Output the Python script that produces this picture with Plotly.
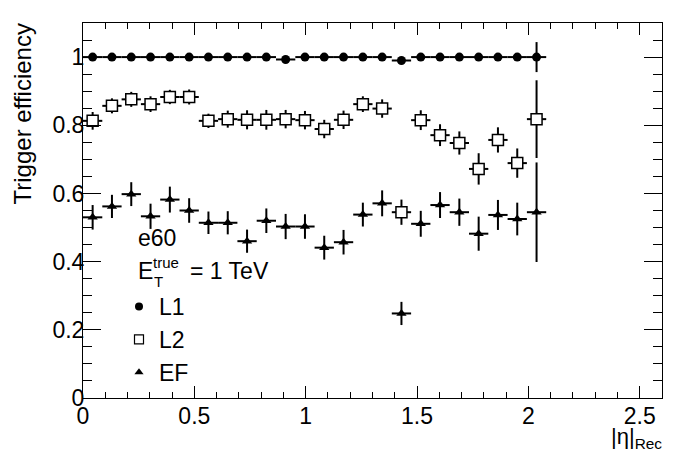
import numpy as np
import plotly.graph_objects as go

# Binning: 30 bins in |eta| from 0 to 2.6, first 24 bins filled
bin_width = 2.6 / 30
n_filled = 24
eta_centers = [round((i + 0.5) * bin_width, 4) for i in range(n_filled)]
eta_halfwidth = [bin_width / 2] * n_filled

l1_eff = [1.0, 1.0, 1.0, 1.0, 1.0, 1.0, 1.0, 1.0, 1.0, 1.0,
          0.993, 1.0, 1.0, 1.0, 1.0, 1.0, 0.99, 1.0, 1.0, 1.0,
          1.0, 1.0, 1.0, 1.0]
l1_err = [0.002, 0.002, 0.002, 0.002, 0.002, 0.002, 0.002, 0.002, 0.002, 0.002,
          0.005, 0.002, 0.002, 0.002, 0.002, 0.002, 0.007, 0.002, 0.002, 0.002,
          0.002, 0.002, 0.002, 0.044]

l2_eff = [0.813, 0.857, 0.876, 0.862, 0.883, 0.883, 0.813, 0.818, 0.816, 0.816,
          0.818, 0.815, 0.789, 0.816, 0.862, 0.849, 0.545, 0.815, 0.771, 0.748,
          0.672, 0.757, 0.689, 0.818]
l2_err = [0.026, 0.022, 0.022, 0.023, 0.021, 0.022, 0.021, 0.025, 0.028, 0.029,
          0.027, 0.027, 0.027, 0.027, 0.023, 0.027, 0.037, 0.029, 0.032, 0.034,
          0.046, 0.037, 0.043, 0.114]

ef_eff = [0.530, 0.562, 0.598, 0.533, 0.582, 0.550, 0.514, 0.514, 0.460, 0.520,
          0.503, 0.503, 0.441, 0.457, 0.538, 0.571, 0.248, 0.511, 0.566, 0.545,
          0.482, 0.537, 0.525, 0.545]
ef_err = [0.036, 0.034, 0.035, 0.037, 0.038, 0.036, 0.033, 0.034, 0.034, 0.036,
          0.037, 0.036, 0.035, 0.036, 0.035, 0.038, 0.034, 0.038, 0.038, 0.040,
          0.050, 0.044, 0.048, 0.146]

series_names = ["L1", "L2", "EF"]
x_ticks = [0, 0.5, 1, 1.5, 2, 2.5]
y_ticks = [0, 0.2, 0.4, 0.6, 0.8, 1]

FONT = "Liberation Sans, Arial, Helvetica, sans-serif"

fig = go.Figure()

def add_series(y, yerr, symbol, size, fill, line_w):
    fig.add_trace(go.Scatter(
        x=eta_centers, y=y, mode="markers", showlegend=False,
        marker=dict(symbol=symbol, size=size, color=fill,
                    line=dict(color="black", width=line_w)),
        error_x=dict(type="data", array=eta_halfwidth, width=0,
                     thickness=2, color="black"),
        error_y=dict(type="data", array=yerr, width=0,
                     thickness=2, color="black"),
    ))

add_series(l1_eff, l1_err, "circle", 9, "black", 0)
add_series(l2_eff, l2_err, "square", 11, "white", 1.5)
add_series(ef_eff, ef_err, "triangle-up", 9, "black", 0)

# legend-only entries
leg_styles = [("circle", 8, "black", 0), ("square", 9, "white", 1.2),
              ("triangle-up", 8, "black", 0)]
for name, (sym, sz, col, lw) in zip(series_names, leg_styles):
    fig.add_trace(go.Scatter(
        x=[None], y=[None], mode="markers", name=name, showlegend=True,
        marker=dict(symbol=sym, size=sz, color=col,
                    line=dict(color="black", width=lw)),
    ))

axis_common = dict(
    showline=True, linecolor="black", linewidth=1, mirror="allticks",
    ticks="inside", tickcolor="black", tickwidth=1, showgrid=False,
    zeroline=False, tickfont=dict(family=FONT, size=23, color="black"),
)

fig.update_xaxes(range=[0, 2.6], tickvals=x_ticks, ticklen=12,
                 ticklabelstandoff=-3,
                 minor=dict(dtick=0.1, ticklen=6, ticks="inside",
                            tickcolor="black", showgrid=False),
                 **axis_common)
fig.update_yaxes(range=[0, 1.1], tickvals=y_ticks, ticklen=18,
                 ticklabelstandoff=-7,
                 minor=dict(dtick=0.05, ticklen=9, ticks="inside",
                            tickcolor="black", showgrid=False),
                 **axis_common)

# page body has an 8px offset; work in window pixel coordinates
OFF = 8
W, H = 680, 456
ml, mt = 75, 15
pw, ph = 579, 375
mr, mb = W - ml - pw, H - mt - ph

def px(xw):
    return (xw - OFF - ml) / pw

def py(yw):
    return (mt + ph - (yw - OFF)) / ph

ann = []
ann.append(dict(text="Trigger efficiency", textangle=-90, xref="paper", yref="paper",
                x=px(22), y=py(22), xanchor="center", yanchor="top", showarrow=False,
                font=dict(family=FONT, size=24, color="black")))
ann.append(dict(text="|η|<sub>Rec</sub>", xref="paper", yref="paper",
                x=px(664), y=py(422), xanchor="right", yanchor="top", showarrow=False,
                font=dict(family=FONT, size=22, color="black")))
ann.append(dict(text="e60", xref="paper", yref="paper", x=px(136), y=py(238),
                xanchor="left", yanchor="middle", showarrow=False,
                font=dict(family=FONT, size=23, color="black")))
ann.append(dict(text="E", xref="paper", yref="paper", x=px(136), y=py(271),
                xanchor="left", yanchor="middle", showarrow=False,
                font=dict(family=FONT, size=23, color="black")))
ann.append(dict(text="true", xref="paper", yref="paper", x=px(151), y=py(262),
                xanchor="left", yanchor="middle", showarrow=False,
                font=dict(family=FONT, size=15, color="black")))
ann.append(dict(text="T", xref="paper", yref="paper", x=px(152), y=py(281),
                xanchor="left", yanchor="middle", showarrow=False,
                font=dict(family=FONT, size=15, color="black")))
ann.append(dict(text="= 1 TeV", xref="paper", yref="paper", x=px(188), y=py(271),
                xanchor="left", yanchor="middle", showarrow=False,
                font=dict(family=FONT, size=23, color="black")))

fig.update_layout(
    width=W, height=H, autosize=False,
    margin=dict(l=ml, r=mr, t=mt, b=mb, pad=0),
    paper_bgcolor="white", plot_bgcolor="white",
    font=dict(family=FONT, size=22, color="black"),
    annotations=ann,
    legend=dict(x=px(119), y=py(285), xanchor="left", yanchor="top",
                bgcolor="rgba(0,0,0,0)", borderwidth=0,
                font=dict(family=FONT, size=23, color="black"),
                tracegroupgap=0),
)

fig.write_html("out.html")
